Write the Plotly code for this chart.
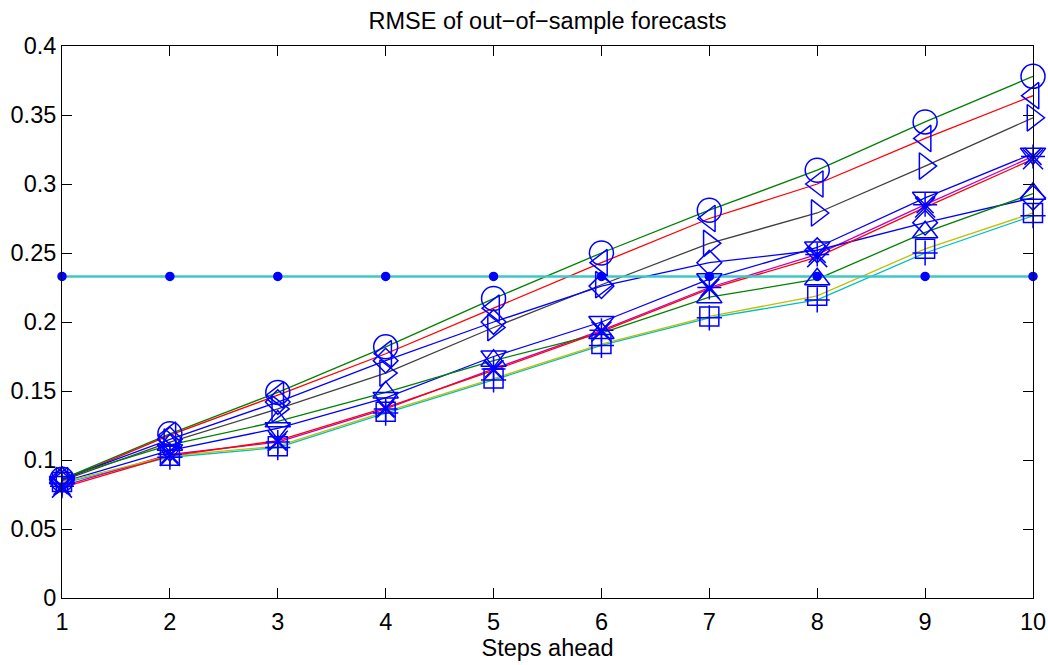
import plotly.graph_objects as go

steps = [1, 2, 3, 4, 5, 6, 7, 8, 9, 10]

# RMSE per forecast horizon for each model
rmse_blue_a = [0.084, 0.107, 0.123, 0.145, 0.175, 0.200, 0.231, 0.254, 0.290, 0.322]
rmse_green_a = [0.086, 0.119, 0.149, 0.182, 0.217, 0.250, 0.281, 0.310, 0.345, 0.378]
rmse_red_a = [0.085, 0.118, 0.147, 0.177, 0.210, 0.243, 0.275, 0.300, 0.333, 0.364]
rmse_cyan_a = [0.083, 0.102, 0.109, 0.134, 0.158, 0.183, 0.203, 0.216, 0.250, 0.277]
rmse_magenta = [0.081, 0.104, 0.113, 0.137, 0.166, 0.194, 0.225, 0.249, 0.285, 0.320]
rmse_yellow = [0.084, 0.103, 0.110, 0.135, 0.159, 0.184, 0.204, 0.219, 0.253, 0.279]
rmse_gray = [0.085, 0.113, 0.137, 0.163, 0.196, 0.227, 0.257, 0.279, 0.313, 0.348]
rmse_blue_b = [0.086, 0.115, 0.142, 0.172, 0.200, 0.226, 0.243, 0.252, 0.272, 0.290]
rmse_green_b = [0.087, 0.111, 0.128, 0.149, 0.172, 0.192, 0.218, 0.231, 0.265, 0.293]
rmse_red_b = [0.080, 0.103, 0.114, 0.138, 0.165, 0.193, 0.224, 0.247, 0.283, 0.318]
rmse_benchmark = [0.233, 0.233, 0.233, 0.233, 0.233, 0.233, 0.233, 0.233, 0.233, 0.233]

y_ticks = [0, 0.05, 0.1, 0.15, 0.2, 0.25, 0.3, 0.35, 0.4]
y_tick_labels = ["0", "0.05", "0.1", "0.15", "0.2", "0.25", "0.3", "0.35", "0.4"]

# (values, line colour, marker symbol, marker size, line width)
series = [
    (rmse_blue_a, "#0000ff", "triangle-down-open", 22, 1.3),
    (rmse_green_a, "#008000", "circle-open", 24, 1.3),
    (rmse_red_a, "#ff0000", "triangle-left-open", 23, 1.3),
    (rmse_cyan_a, "#00bfbf", "cross-thin-open", 18, 1.3),
    (rmse_magenta, "#bf00bf", "asterisk-open", 20, 1.3),
    (rmse_yellow, "#bfbf00", "square-open", 19, 1.3),
    (rmse_gray, "#404040", "triangle-right-open", 23, 1.3),
    (rmse_blue_b, "#0000ff", "diamond-open", 19, 1.3),
    (rmse_green_b, "#008000", "triangle-up-open", 22, 1.3),
    (rmse_red_b, "#ff0000", "x-thin-open", 20, 1.3),
    (rmse_benchmark, "#3fc6c6", "circle", 8, 2.6),
]

fig = go.Figure()

for vals, colour, _, _, width in series:
    fig.add_trace(go.Scatter(
        x=steps, y=vals, mode="lines",
        line=dict(color=colour, width=width),
        showlegend=False, hoverinfo="skip", cliponaxis=False,
    ))

for vals, _, symbol, size, _ in series:
    fig.add_trace(go.Scatter(
        x=steps, y=vals, mode="markers",
        marker=dict(symbol=symbol, size=size, color="#0000ff",
                    line=dict(color="#0000ff", width=1.5)),
        showlegend=False, cliponaxis=False,
    ))

font_family = "Liberation Sans, Arial, sans-serif"
font_size = 23.5

fig.update_layout(
    width=1048, height=665,
    margin=dict(l=62, r=15, t=46, b=67),
    paper_bgcolor="white", plot_bgcolor="white",
    font=dict(family=font_family, size=font_size, color="black"),
    title=dict(text="RMSE of out\u2212of\u2212sample forecasts",
               x=0.5, xref="paper", xanchor="center",
               y=1 - 21 / 665, yanchor="middle",
               font=dict(size=font_size)),
    xaxis=dict(
        range=[1, 10], tickvals=steps, ticktext=[str(s) for s in steps],
        ticks="inside", ticklen=10, tickwidth=1, tickcolor="black",
        showline=True, linecolor="black", linewidth=1, mirror="ticks",
        showgrid=False, zeroline=False, ticklabelstandoff=3,
        automargin=False, ticklabeloverflow="allow",
        title=dict(text="Steps ahead", font=dict(size=font_size), standoff=4),
    ),
    yaxis=dict(
        range=[0, 0.4], tickvals=y_ticks, ticktext=y_tick_labels,
        ticks="inside", ticklen=10, tickwidth=1, tickcolor="black",
        showline=True, linecolor="black", linewidth=1, mirror="ticks",
        showgrid=False, zeroline=False,
        automargin=False, ticklabeloverflow="allow",
    ),
)

fig.write_html("out.html")
